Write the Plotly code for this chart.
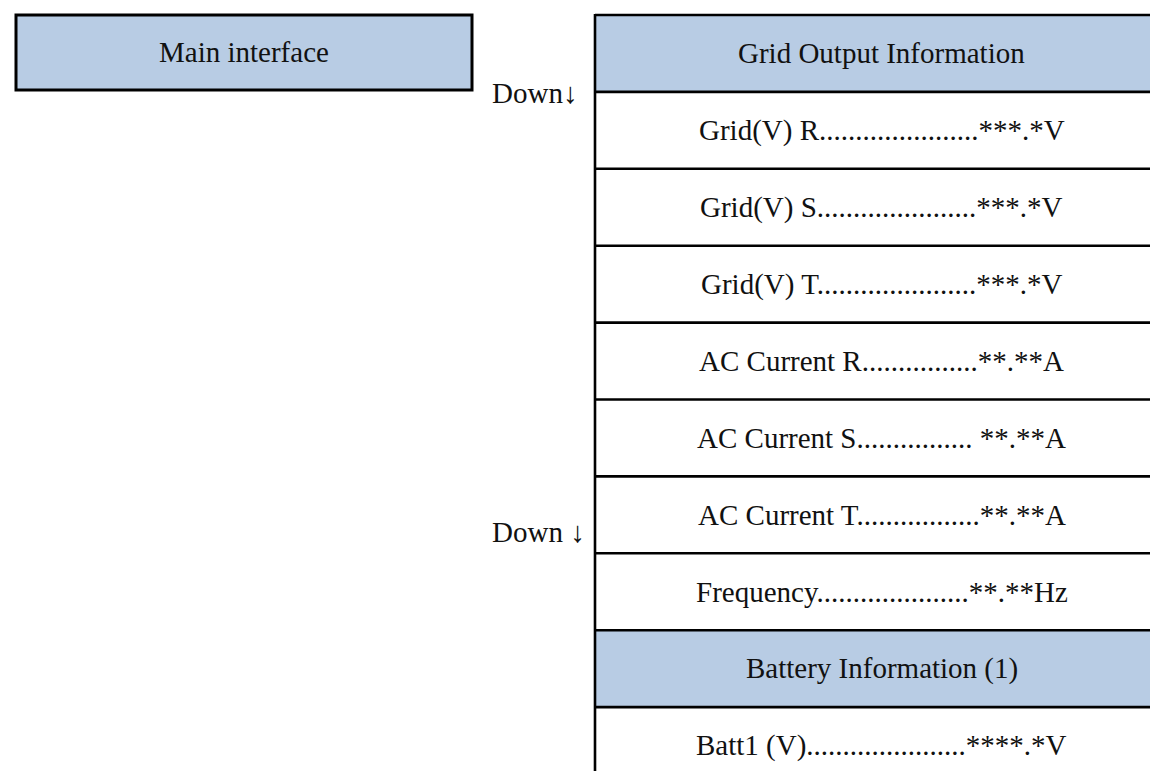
import plotly.graph_objects as go

# ---- data (text content of the diagram) ----
main_label = "Main interface"
row_labels = [
    "Grid Output Information",
    "Grid(V) R......................***.*V",
    "Grid(V) S......................***.*V",
    "Grid(V) T......................***.*V",
    "AC Current R................**.**A",
    "AC Current S................ **.**A",
    "AC Current T.................**.**A",
    "Frequency.....................**.**Hz",
    "Battery Information (1)",
    "Batt1 (V)......................****.*V",
]
row_is_header = [True, False, False, False, False, False, False, False, True, False]
side_labels = ["Down↓", "Down ↓"]
side_label_rows = [1.02, 6.72]   # position in row units from table top

# ---- layout constants ----
W, H = 1158, 771
FILL = "#B8CCE4"
FONT = dict(family="Liberation Serif", size=29, color="#111111")
LW = 2.6

tbl_x0, tbl_x1 = 587, 1170
tbl_y0 = 7
row_h = 76.9

fig = go.Figure()
shapes = []
annotations = []

# main interface box
shapes.append(dict(type="rect", xref="x", yref="y", x0=8, x1=464, y0=7, y1=82,
                   fillcolor=FILL, line=dict(color="black", width=3), layer="below"))
annotations.append(dict(x=236, y=44, xref="x", yref="y", text=main_label,
                        showarrow=False, font=FONT, xanchor="center", yanchor="middle"))

# table rows
n = len(row_labels)
for i, (lab, hdr) in enumerate(zip(row_labels, row_is_header)):
    y0 = tbl_y0 + i * row_h
    y1 = y0 + row_h
    if hdr:
        shapes.append(dict(type="rect", xref="x", yref="y", x0=tbl_x0, x1=tbl_x1, y0=y0, y1=y1,
                           fillcolor=FILL, line=dict(width=0), layer="below"))
    annotations.append(dict(x=(tbl_x0 + W) / 2 + 1, y=(y0 + y1) / 2, xref="x", yref="y",
                            text=lab, showarrow=False, font=FONT,
                            xanchor="center", yanchor="middle"))
# horizontal borders (top + between rows; last row open)
for i in range(n):
    y = tbl_y0 + i * row_h
    shapes.append(dict(type="line", xref="x", yref="y", x0=tbl_x0, x1=tbl_x1, y0=y, y1=y,
                       line=dict(color="black", width=LW)))
# left vertical border
shapes.append(dict(type="line", xref="x", yref="y", x0=tbl_x0, x1=tbl_x0, y0=tbl_y0 - 1, y1=H + 5,
                   line=dict(color="black", width=LW)))

# side "Down" labels
for lab, r in zip(side_labels, side_label_rows):
    annotations.append(dict(x=482, y=tbl_y0 + r * row_h, xref="x", yref="y",
                            text=lab, showarrow=False, font=FONT,
                            xanchor="left", yanchor="middle"))

fig.update_layout(
    width=W, height=H,
    margin=dict(l=0, r=0, t=0, b=0),
    paper_bgcolor="white", plot_bgcolor="white",
    xaxis=dict(range=[0, W], visible=False, fixedrange=True),
    yaxis=dict(range=[H, 0], visible=False, fixedrange=True),
    shapes=shapes, annotations=annotations, showlegend=False,
)
fig.write_html("out.html", config={"displayModeBar": False})
